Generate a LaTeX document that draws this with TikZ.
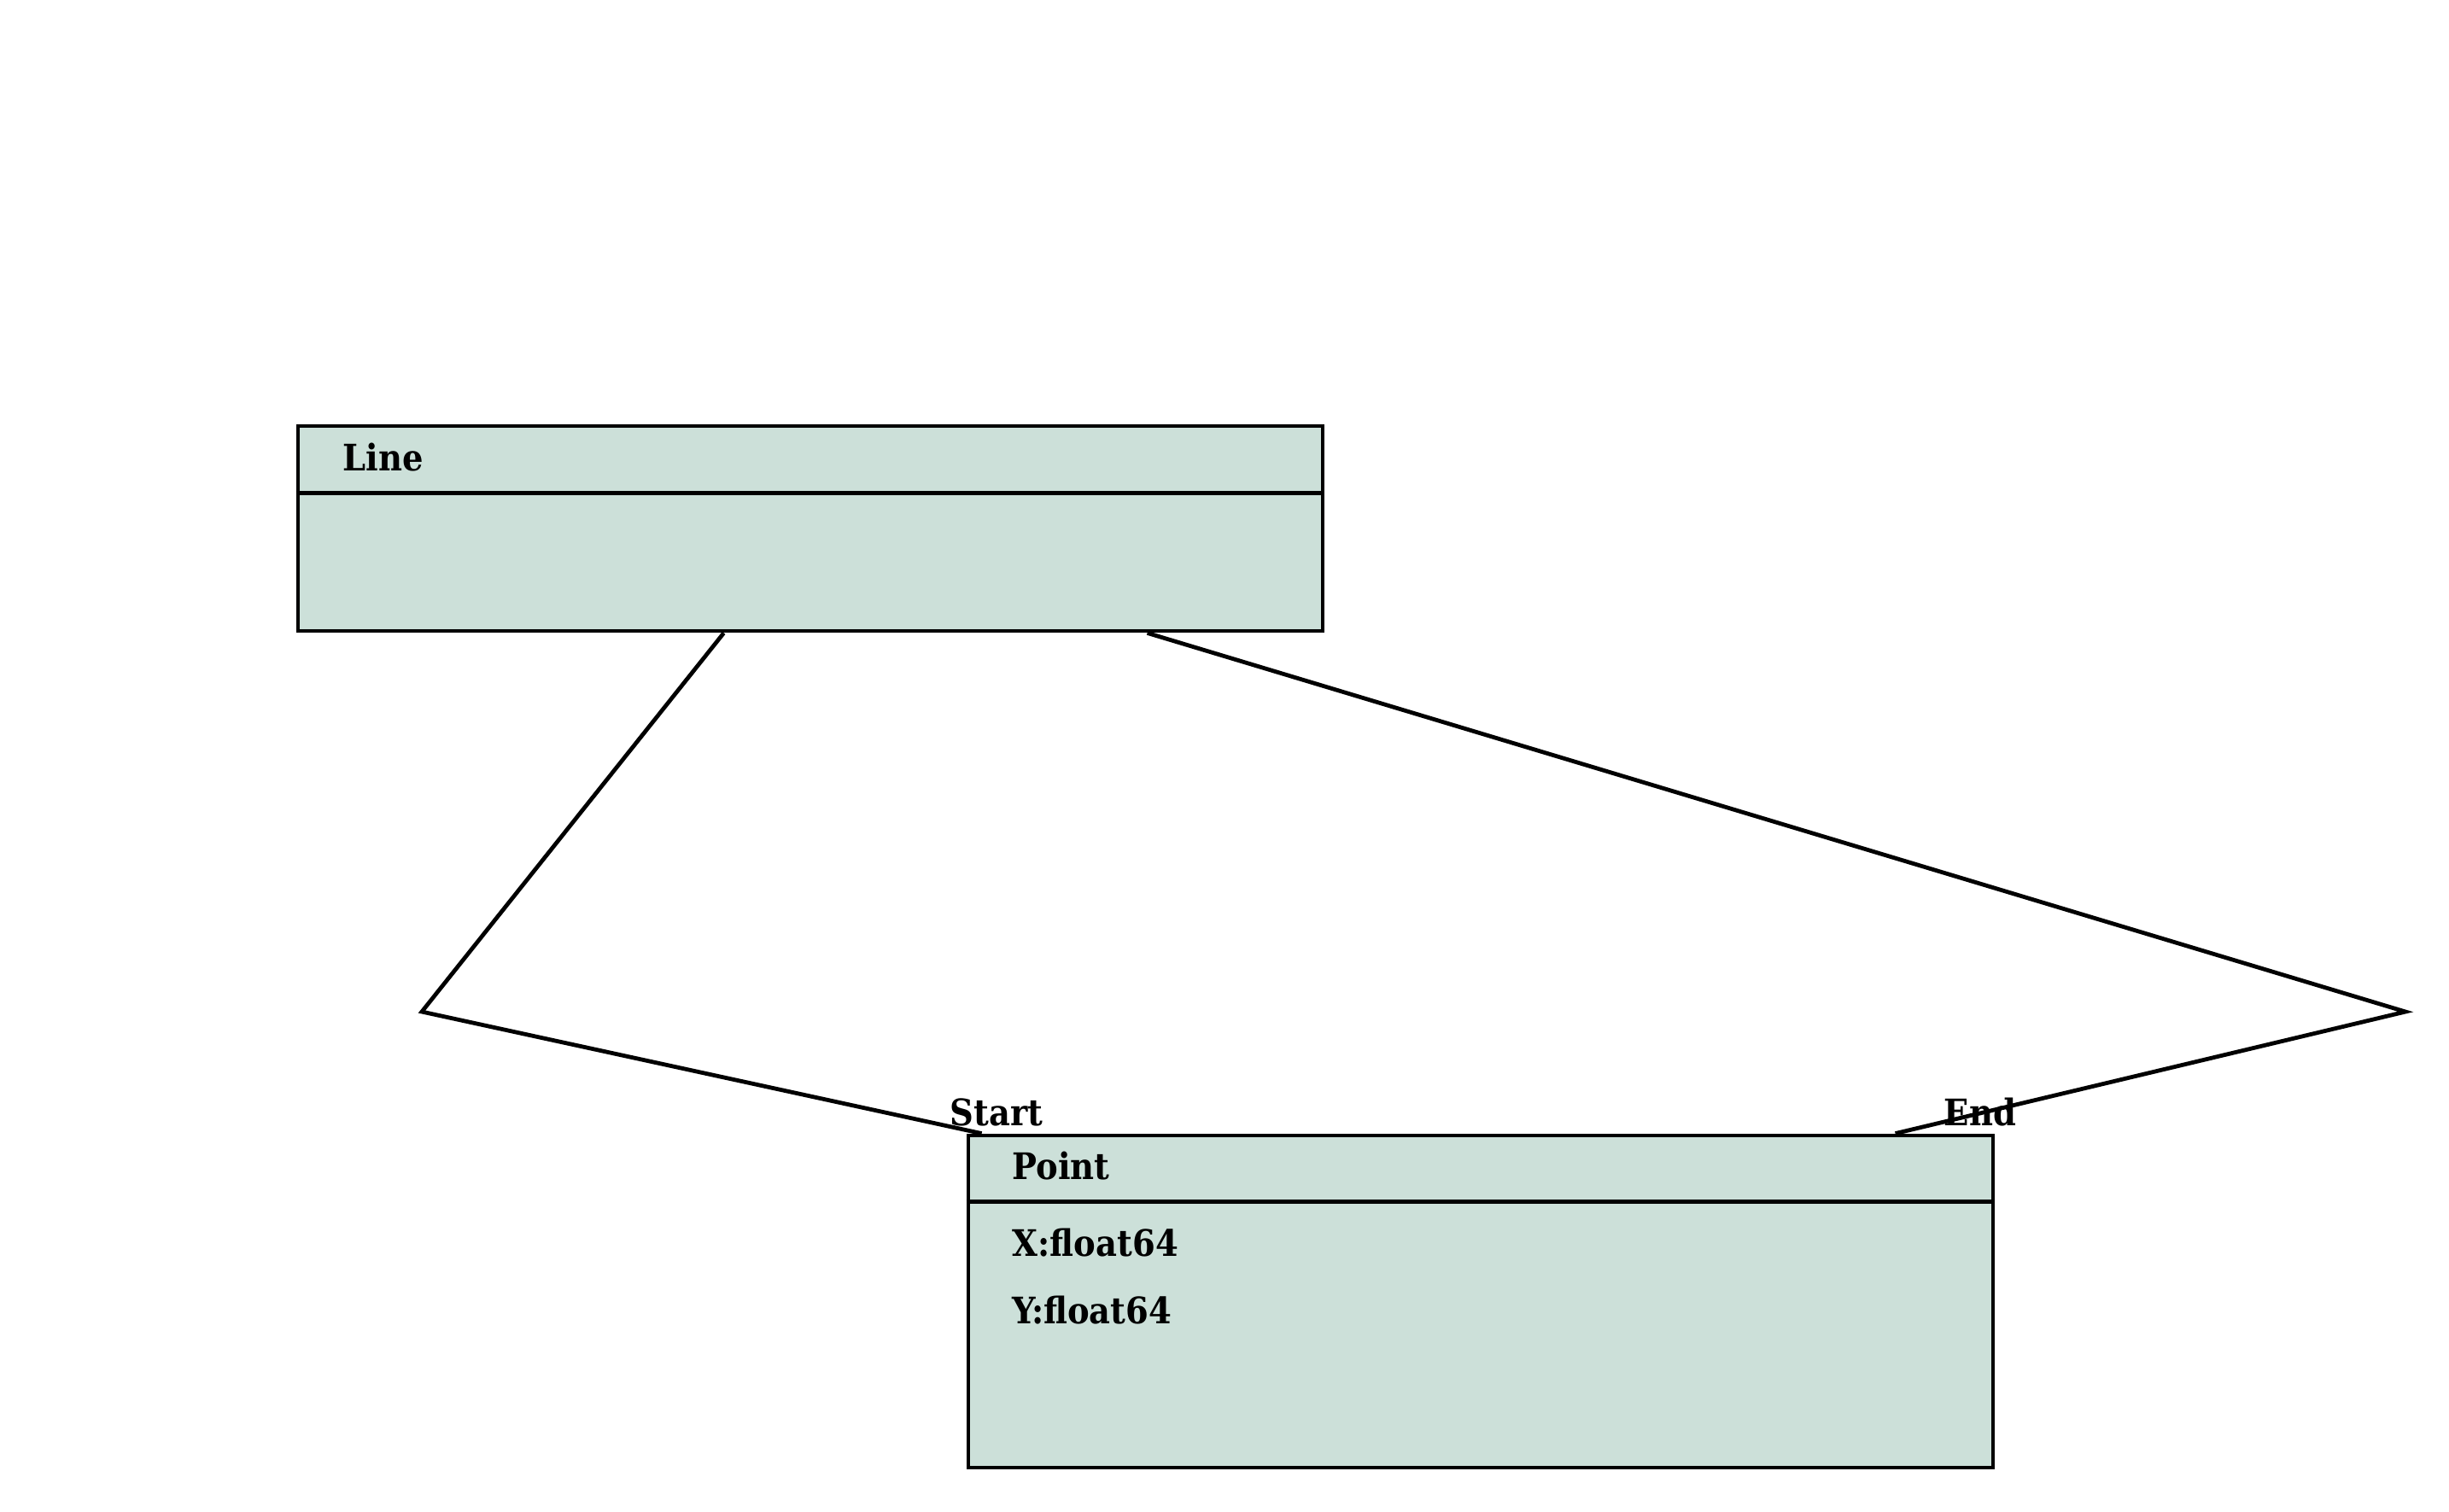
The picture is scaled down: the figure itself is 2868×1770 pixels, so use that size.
\documentclass[tikz,border=0pt]{standalone}
\usepackage{fontspec}
\setmainfont{DejaVu Serif Condensed}
\usetikzlibrary{calc}
\definecolor{boxfill}{RGB}{204,224,217}
\begin{document}
\begin{tikzpicture}[x=0.25pt,y=-0.25pt,
  classbox/.style={draw=black,fill=boxfill,line width=1.2pt,rectangle,inner sep=0pt},
  conn/.style={draw=black,line width=1.2pt},
  lbl/.style={font=\bfseries\fontsize{10.7pt}{12pt}\selectfont,inner sep=0pt,anchor=base west},
  every node/.style={font=\bfseries\fontsize{10.7pt}{12pt}\selectfont}]
\useasboundingbox[fill=white] (0,0) rectangle (2868,1770);
% Line box
\node[classbox,minimum width=300pt,minimum height=60pt] (line) at (949,619) {};
\draw[line width=1.2pt] ([yshift=-20.25pt]line.north west) coordinate (lsepw) -- ([yshift=-20.25pt]line.north east) coordinate (lsepe);
\node[lbl] (linetitle) at (401,551) {Line};
% Point box
\node[classbox,minimum width=300pt,minimum height=97.25pt] (point) at (1734,1524.5) {};
\draw[line width=1.2pt] ([yshift=-20pt]point.north west) coordinate (psepw) -- ([yshift=-20pt]point.north east) coordinate (psepe);
\node[lbl] (pointtitle) at (1185,1381) {Point};
\node[lbl] (px) at (1185,1471) {X:float64};
\node[lbl] (py) at (1185,1550) {Y:float64};
% connectors
\coordinate (b1) at (494,1185);
\coordinate (b2) at (2817,1185);
\draw[conn] ([xshift=125.25pt]line.south west) -- (b1) -- ([xshift=4.5pt]point.north west);
\draw[conn] ([xshift=249.25pt]line.south west) -- (b2) -- ([xshift=272pt]point.north west);
\node[inner sep=0pt] (start) at (1167,1303) {Start};
\node[inner sep=0pt] (end) at (2319,1303) {End};
\end{tikzpicture}
\end{document}
